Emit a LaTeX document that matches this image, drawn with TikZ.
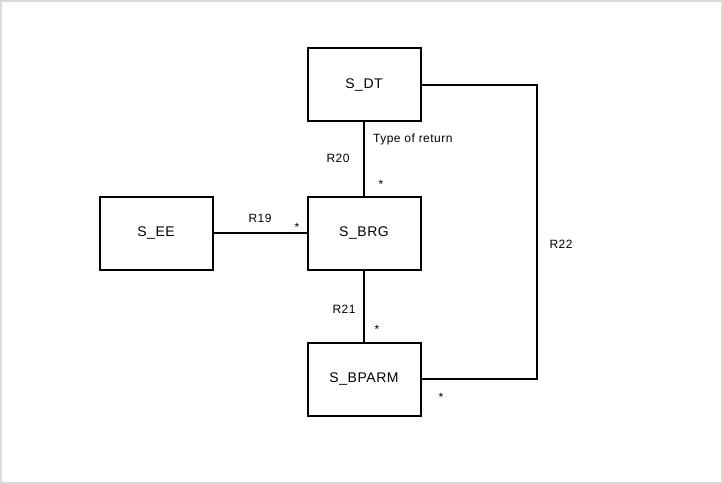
\documentclass[tikz,border=0pt]{standalone}
\usepackage{fontspec}
\setmainfont{Liberation Sans}
\newfontfamily\gothicfont[LetterSpace=4]{Liberation Sans}
\usetikzlibrary{positioning}

\begin{document}
\begin{tikzpicture}[x=1pt, y=-1pt]
      % Define styles for nodes
      \tikzset{
        classbox/.style={rectangle, draw, line width=2pt, minimum width=113pt, minimum height=73pt, inner sep=0pt, font=\gothicfont\fontsize{14}{16}\selectfont},
        assoc/.style={line width=2pt},
        annotation/.style={font=\gothicfont\fontsize{12}{14}\selectfont, inner sep=1pt}
      }
      \useasboundingbox (0,0) rectangle (723,484);
      \draw[gray!30, line width=1.5pt] (1,1) rectangle (722,483);

      % Create the classes
      \node[classbox] (brg) at (364,233) {S\_BRG};
      \node[classbox, above=73pt of brg] (dt) {S\_DT};
      \node[classbox, below=71pt of brg] (bparm) {S\_BPARM};
      \node[classbox, left=93pt of brg] (ee) {S\_EE};
      \coordinate (r22corner) at (537,233);

      % Draw the associations
      \draw[assoc] (dt) -- (brg);
      \draw[assoc] (brg) -- (bparm);
      \draw[assoc] (ee) -- (brg);
      \draw[assoc] (dt.east) -| (r22corner) |- (bparm.east);

      % Add labels next to the associations
      \node[annotation, anchor=west] (tor) at (372,139) {Type of return};
      \node[annotation] (r20) at (338,158) {R20};
      \node[annotation] (m20) at (381,184) {*};
      \node[annotation] (r19) at (260,218) {R19};
      \node[annotation] (m19) at (297,227) {*};
      \node[annotation] (r21) at (344,309) {R21};
      \node[annotation] (m21) at (377,329) {*};
      \node[annotation] (m22) at (441,397) {*};
      \node[annotation] (r22) at (561,244) {R22};
    \end{tikzpicture}
\end{document}
